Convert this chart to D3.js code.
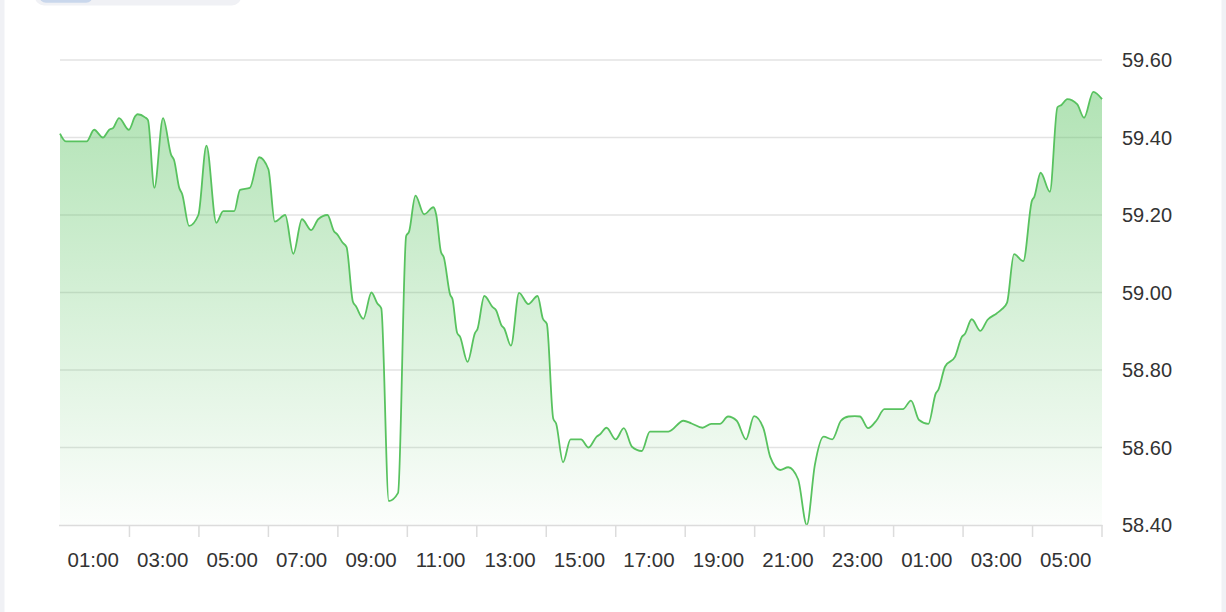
<!DOCTYPE html>
<html>
<head>
<meta charset="utf-8">
<script src="https://cdn.jsdelivr.net/npm/d3@7"></script>
<style>
  html, body { margin: 0; padding: 0; background: #fff; }
  svg { display: block; }
  text { font-family: "Liberation Sans", Arial, Helvetica, sans-serif; }
</style>
</head>
<body>
<svg id="chart" width="1226" height="612"></svg>
<script>
// minutes elapsed since 00:00 of the first day
const minutes = [
  0, 10, 46, 59, 74, 85, 92, 102, 119, 130, 134, 147, 152, 163, 178, 192, 197, 206, 211, 223,
  239, 253, 270, 282, 301, 311, 328, 344, 360, 371, 389, 403, 418, 434, 446, 462, 473, 479, 488, 495,
  506, 511, 524, 538, 548, 555, 568, 584, 598, 603, 614, 629, 645, 650, 658, 663, 674, 678, 686, 691,
  704, 717, 721, 733, 747, 753, 763, 767, 779, 793, 809, 825, 834, 841, 852, 857, 869, 882, 900, 913,
  927, 933, 944, 960, 974, 988, 1005, 1019, 1051, 1077, 1091, 1110, 1125, 1140, 1154, 1169, 1185, 1199, 1215, 1227,
  1244, 1258, 1275, 1290, 1304, 1319, 1334, 1349, 1362, 1373, 1382, 1396, 1411, 1424, 1456, 1470, 1484, 1500, 1513, 1517,
  1529, 1546, 1558, 1563, 1575, 1590, 1602, 1618, 1627, 1636, 1648, 1664, 1679, 1683, 1694, 1710, 1723, 1730, 1740, 1757,
  1769, 1785, 1800
];
const prices = [
  59.41, 59.39, 59.39, 59.42, 59.40, 59.42, 59.425, 59.45, 59.42, 59.455, 59.46, 59.452, 59.445, 59.27, 59.45, 59.355, 59.342, 59.27, 59.254, 59.172,
  59.20, 59.379, 59.18, 59.21, 59.21, 59.265, 59.27, 59.349, 59.318, 59.183, 59.20, 59.10, 59.189, 59.161, 59.189, 59.20, 59.159, 59.15, 59.129, 59.117,
  58.976, 58.965, 58.932, 59.00, 58.972, 58.959, 58.462, 58.483, 59.146, 59.157, 59.25, 59.202, 59.22, 59.20, 59.105, 59.091, 58.994, 58.983, 58.896, 58.886,
  58.821, 58.896, 58.905, 58.991, 58.963, 58.955, 58.914, 58.908, 58.863, 58.999, 58.97, 58.991, 58.933, 58.919, 58.675, 58.662, 58.562, 58.621, 58.621, 58.600,
  58.628, 58.634, 58.651, 58.621, 58.650, 58.602, 58.591, 58.641, 58.641, 58.669, 58.662, 58.651, 58.661, 58.661, 58.680, 58.669, 58.621, 58.681, 58.650, 58.575,
  58.542, 58.549, 58.518, 58.40, 58.555, 58.628, 58.621, 58.669, 58.680, 58.681, 58.68, 58.65, 58.671, 58.699, 58.699, 58.721, 58.671, 58.661, 58.74, 58.748,
  58.809, 58.834, 58.886, 58.893, 58.931, 58.901, 58.929, 58.946, 58.957, 58.974, 59.099, 59.081, 59.237, 59.247, 59.309, 59.26, 59.478, 59.484, 59.499, 59.486,
  59.451, 59.518, 59.499
];
const yTicks = [58.40, 58.60, 58.80, 59.00, 59.20, 59.40, 59.60];
const xTickMinutes = [120, 240, 360, 480, 600, 720, 840, 960, 1080, 1200, 1320, 1440, 1560, 1680, 1800];
const xLabelMinutes = [60, 180, 300, 420, 540, 660, 780, 900, 1020, 1140, 1260, 1380, 1500, 1620, 1740];
const xLabels = ["01:00", "03:00", "05:00", "07:00", "09:00", "11:00", "13:00", "15:00", "17:00", "19:00", "21:00", "23:00", "01:00", "03:00", "05:00"];

const data = minutes.map((m, i) => ({ m, v: prices[i] }));

const svg = d3.select("#chart");
const plotLeft = 60, plotRight = 1102, plotTop = 60, plotBottom = 525;

// page chrome
svg.append("rect").attr("x", 0).attr("y", 0).attr("width", 4.5).attr("height", 612).attr("fill", "#f0f1f5");
svg.append("rect").attr("x", 1221.5).attr("y", 0).attr("width", 5).attr("height", 612).attr("fill", "#f0f1f5");
svg.append("rect").attr("x", 35).attr("y", -20).attr("width", 206).attr("height", 25.5).attr("rx", 9).attr("fill", "#f0f1f5");
svg.append("rect").attr("x", 39).attr("y", -20).attr("width", 54).attr("height", 22.7).attr("rx", 7).attr("fill", "#c9d7ec");

const x = d3.scaleLinear().domain([0, 1800]).range([plotLeft, plotRight]);
const y = d3.scaleLinear().domain([58.4, 59.6]).range([plotBottom, plotTop]);

const defs = svg.append("defs");
const grad = defs.append("linearGradient").attr("id", "fillGrad")
  .attr("gradientUnits", "userSpaceOnUse").attr("x1", 0).attr("x2", 0).attr("y1", 90).attr("y2", plotBottom);
grad.append("stop").attr("offset", "0%").attr("stop-color", "#5cc463").attr("stop-opacity", 0.48);
grad.append("stop").attr("offset", "100%").attr("stop-color", "#5cc463").attr("stop-opacity", 0.02);

// gridlines
svg.append("g").selectAll("line").data(yTicks.slice(1)).join("line")
  .attr("x1", plotLeft).attr("x2", plotRight)
  .attr("y1", d => y(d)).attr("y2", d => y(d))
  .attr("stroke", "#e3e3e3").attr("stroke-width", 1.5);

const curve = d3.curveMonotoneX;
svg.append("path").datum(data)
  .attr("fill", "url(#fillGrad)")
  .attr("d", d3.area().x(d => x(d.m)).y0(plotBottom).y1(d => y(d.v)).curve(curve));
svg.append("path").datum(data)
  .attr("fill", "none").attr("stroke", "#58c25f").attr("stroke-width", 1.8)
  .attr("stroke-linejoin", "round")
  .attr("d", d3.line().x(d => x(d.m)).y(d => y(d.v)).curve(curve));

// x axis
const xAxis = svg.append("g").attr("transform", `translate(0,${plotBottom})`);
xAxis.append("line").attr("x1", plotLeft - 1).attr("x2", plotRight + 0.5).attr("y1", 0.5).attr("y2", 0.5)
  .attr("stroke", "#dcdcdc").attr("stroke-width", 1.5);
xAxis.selectAll("line.tick").data(xTickMinutes).join("line").attr("class", "tick")
  .attr("x1", d => x(d)).attr("x2", d => x(d)).attr("y1", 0).attr("y2", 12)
  .attr("stroke", "#dcdcdc").attr("stroke-width", 1.5);
xAxis.selectAll("text").data(xLabelMinutes).join("text")
  .attr("x", d => x(d) - 1.5).attr("y", 42)
  .attr("text-anchor", "middle").attr("font-size", 20.5).attr("fill", "#333")
  .text((d, i) => xLabels[i]);

// y axis labels (right)
svg.append("g").selectAll("text").data(yTicks).join("text")
  .attr("x", plotRight + 20).attr("y", d => y(d)).attr("dy", "0.36em")
  .attr("font-size", 20).attr("fill", "#333")
  .text(d => d.toFixed(2));
</script>
</body>
</html>
